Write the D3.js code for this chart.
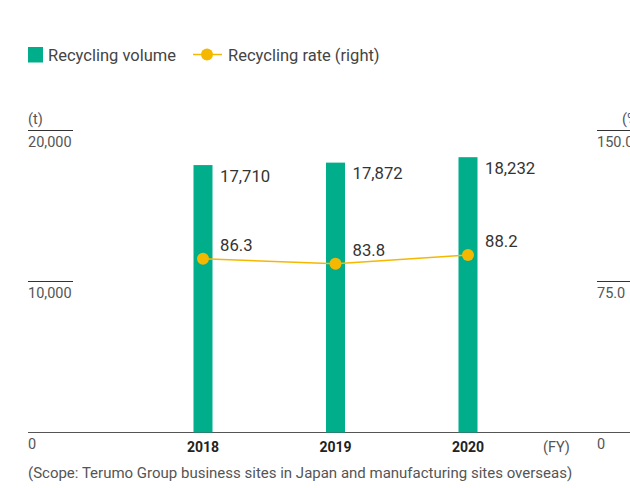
<!DOCTYPE html>
<html><head><meta charset="utf-8">
<script src="https://cdn.jsdelivr.net/npm/d3@7"></script>
<style>body{margin:0;background:#fff;overflow:hidden}svg{display:block}text{font-family:Roboto,"Noto Sans",sans-serif}</style>
</head><body><div id="c"></div>
<script>
const years = ["2018", "2019", "2020"];
const volume = [17710, 17872, 18232];
const rate = [86.3, 83.8, 88.2];
const leftTicks = [0, 10000, 20000];
const rightTicks = [0, 75.0, 150.0];

const W = 630, H = 488;
const svg = d3.select("#c").append("svg").attr("width", W).attr("height", H);
const green = "#00ae8c", yellow = "#f5b800";

const x = d3.scalePoint().domain(years).range([203, 468]);
const yL = d3.scaleLinear().domain([0, 20000]).range([432.5, 130.5]);
const yR = d3.scaleLinear().domain([0, 150]).range([432.5, 130.5]);

// baseline
svg.append("line").attr("x1", 28).attr("x2", W).attr("y1", 432.5).attr("y2", 432.5).attr("stroke", "#555").attr("stroke-width", 1.2);

// left axis
leftTicks.filter(d => d > 0).forEach(d => {
  svg.append("line").attr("x1", 28).attr("x2", 73).attr("y1", yL(d)).attr("y2", yL(d)).attr("stroke", "#333").attr("stroke-width", 1);
});
leftTicks.forEach(d => {
  svg.append("text").attr("x", 28).attr("y", yL(d) + 16).attr("font-size", 14.5).attr("fill", "#555")
    .text(d3.format(",")(d));
});
svg.append("text").attr("x", 28).attr("y", 124).attr("font-size", 14.5).attr("fill", "#555").text("(t)");

// right axis
rightTicks.filter(d => d > 0).forEach(d => {
  svg.append("line").attr("x1", 597).attr("x2", W).attr("y1", yR(d)).attr("y2", yR(d)).attr("stroke", "#333").attr("stroke-width", 1);
});
rightTicks.forEach(d => {
  svg.append("text").attr("x", 597).attr("y", yR(d) + 16).attr("font-size", 14.5).attr("fill", "#555")
    .text(d === 0 ? "0" : d3.format(".1f")(d));
});
svg.append("text").attr("x", 622).attr("y", 124).attr("font-size", 14.5).attr("fill", "#555").text("(%)");

// bars
const bw = 19;
svg.selectAll("rect.bar").data(years).enter().append("rect")
  .attr("x", d => x(d) - bw / 2).attr("width", bw)
  .attr("y", (d, i) => yL(volume[i])).attr("height", (d, i) => 432.5 - yL(volume[i]))
  .attr("fill", green);

svg.selectAll("text.vl").data(years).enter().append("text")
  .attr("x", d => x(d) + 17).attr("y", (d, i) => yL(volume[i]) + 16.5)
  .attr("font-size", 16.7).attr("fill", "#333").text((d, i) => d3.format(",")(volume[i]));

// line
const line = d3.line().x((d, i) => x(years[i])).y(d => yR(d));
svg.append("path").datum(rate).attr("d", line).attr("fill", "none").attr("stroke", yellow).attr("stroke-width", 1.5);
svg.selectAll("circle.pt").data(rate).enter().append("circle")
  .attr("cx", (d, i) => x(years[i])).attr("cy", d => yR(d)).attr("r", 6).attr("fill", yellow);
svg.selectAll("text.rl").data(rate).enter().append("text")
  .attr("x", (d, i) => x(years[i]) + 17).attr("y", d => yR(d) - 8)
  .attr("font-size", 16.7).attr("fill", "#333").text(d => d3.format(".1f")(d));

// x labels
svg.selectAll("text.xl").data(years).enter().append("text")
  .attr("x", d => x(d)).attr("y", 452).attr("text-anchor", "middle")
  .attr("font-size", 14).attr("font-weight", "bold").attr("fill", "#222").text(d => d);
svg.append("text").attr("x", 543).attr("y", 452).attr("font-size", 14.5).attr("fill", "#555").text("(FY)");

// footnote
svg.append("text").attr("x", 28).attr("y", 478).attr("font-size", 15).attr("fill", "#555")
  .text("(Scope: Terumo Group business sites in Japan and manufacturing sites overseas)");

// legend
svg.append("rect").attr("x", 28).attr("y", 47).attr("width", 15).attr("height", 15.5).attr("fill", green);
svg.append("text").attr("x", 48).attr("y", 61).attr("font-size", 16.5).attr("fill", "#444").text("Recycling volume");
svg.append("line").attr("x1", 193).attr("x2", 222).attr("y1", 54.5).attr("y2", 54.5).attr("stroke", yellow).attr("stroke-width", 1.5);
svg.append("circle").attr("cx", 207).attr("cy", 54.5).attr("r", 6).attr("fill", yellow);
svg.append("text").attr("x", 228).attr("y", 61).attr("font-size", 16.5).attr("fill", "#444").text("Recycling rate (right)");
</script></body></html>
